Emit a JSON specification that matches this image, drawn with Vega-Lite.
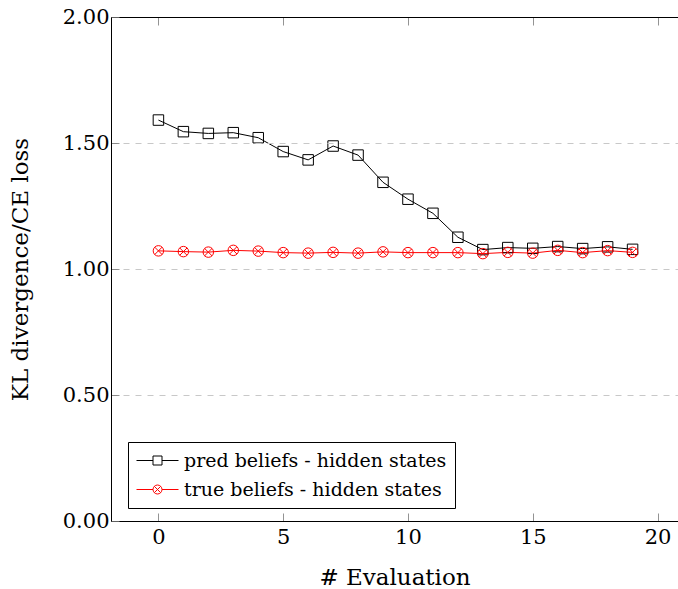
{
  "$schema": "https://vega.github.io/schema/vega-lite/v6.json",
  "width": 567,
  "height": 504,
  "autosize": "none",
  "padding": {"left": 111, "top": 17, "right": 0, "bottom": 68},
  "background": "white",
  "config": {
    "view": {"stroke": null},
    "font": "DejaVu Serif",
    "axis": {"labelFont": "DejaVu Serif", "titleFont": "DejaVu Serif", "labelColor": "black", "titleColor": "black", "titleFontWeight": "normal", "labelFontSize": 21, "titleFontSize": 23}
  },
  "data": {
    "values": [
      {"x": 0, "value": 1.591, "series": "pred beliefs - hidden states"},
      {"x": 1, "value": 1.545, "series": "pred beliefs - hidden states"},
      {"x": 2, "value": 1.538, "series": "pred beliefs - hidden states"},
      {"x": 3, "value": 1.541, "series": "pred beliefs - hidden states"},
      {"x": 4, "value": 1.521, "series": "pred beliefs - hidden states"},
      {"x": 5, "value": 1.466, "series": "pred beliefs - hidden states"},
      {"x": 6, "value": 1.433, "series": "pred beliefs - hidden states"},
      {"x": 7, "value": 1.488, "series": "pred beliefs - hidden states"},
      {"x": 8, "value": 1.452, "series": "pred beliefs - hidden states"},
      {"x": 9, "value": 1.344, "series": "pred beliefs - hidden states"},
      {"x": 10, "value": 1.277, "series": "pred beliefs - hidden states"},
      {"x": 11, "value": 1.221, "series": "pred beliefs - hidden states"},
      {"x": 12, "value": 1.126, "series": "pred beliefs - hidden states"},
      {"x": 13, "value": 1.077, "series": "pred beliefs - hidden states"},
      {"x": 14, "value": 1.085, "series": "pred beliefs - hidden states"},
      {"x": 15, "value": 1.082, "series": "pred beliefs - hidden states"},
      {"x": 16, "value": 1.089, "series": "pred beliefs - hidden states"},
      {"x": 17, "value": 1.081, "series": "pred beliefs - hidden states"},
      {"x": 18, "value": 1.088, "series": "pred beliefs - hidden states"},
      {"x": 19, "value": 1.078, "series": "pred beliefs - hidden states"},
      {"x": 0, "value": 1.072, "series": "true beliefs - hidden states"},
      {"x": 1, "value": 1.069, "series": "true beliefs - hidden states"},
      {"x": 2, "value": 1.067, "series": "true beliefs - hidden states"},
      {"x": 3, "value": 1.074, "series": "true beliefs - hidden states"},
      {"x": 4, "value": 1.071, "series": "true beliefs - hidden states"},
      {"x": 5, "value": 1.065, "series": "true beliefs - hidden states"},
      {"x": 6, "value": 1.063, "series": "true beliefs - hidden states"},
      {"x": 7, "value": 1.066, "series": "true beliefs - hidden states"},
      {"x": 8, "value": 1.063, "series": "true beliefs - hidden states"},
      {"x": 9, "value": 1.068, "series": "true beliefs - hidden states"},
      {"x": 10, "value": 1.065, "series": "true beliefs - hidden states"},
      {"x": 11, "value": 1.065, "series": "true beliefs - hidden states"},
      {"x": 12, "value": 1.065, "series": "true beliefs - hidden states"},
      {"x": 13, "value": 1.061, "series": "true beliefs - hidden states"},
      {"x": 14, "value": 1.066, "series": "true beliefs - hidden states"},
      {"x": 15, "value": 1.063, "series": "true beliefs - hidden states"},
      {"x": 16, "value": 1.074, "series": "true beliefs - hidden states"},
      {"x": 17, "value": 1.065, "series": "true beliefs - hidden states"},
      {"x": 18, "value": 1.073, "series": "true beliefs - hidden states"},
      {"x": 19, "value": 1.066, "series": "true beliefs - hidden states"}
    ]
  },
  "resolve": {"axis": {"x": "independent"}},
  "layer": [
    {
      "mark": {"type": "line", "strokeWidth": 1},
      "encoding": {
        "x": {
          "field": "x", "type": "quantitative",
          "scale": {"domain": [-1.9, 20.82], "nice": false, "zero": false},
          "axis": {"orient": "bottom", "values": [0, 5, 10, 15, 20], "format": "d", "title": "# Evaluation", "grid": false, "tickSize": -8, "tickColor": "#777", "tickWidth": 0.8, "domainColor": "black", "domainWidth": 1, "labelPadding": 13, "titlePadding": 19, "labelFlush": false, "zindex": 1}
        },
        "y": {
          "field": "value", "type": "quantitative",
          "scale": {"domain": [0, 2], "nice": false, "zero": false},
          "axis": {"values": [0, 0.5, 1, 1.5, 2], "format": ".2f", "title": "KL divergence/CE loss", "grid": true, "gridDash": [6, 6], "gridColor": "#c8c8c8", "gridWidth": 1, "tickSize": -8, "tickColor": "#777", "tickWidth": 0.8, "domainColor": "black", "domainWidth": 1, "labelPadding": 10, "titlePadding": 30, "labelFlush": false, "zindex": 1}
        },
        "color": {
          "field": "series", "type": "nominal",
          "scale": {"domain": ["pred beliefs - hidden states", "true beliefs - hidden states"], "range": ["black", "red"]},
          "legend": {
            "orient": "none", "legendX": 17, "legendY": 425, "title": null,
            "fillColor": "white", "strokeColor": "black", "cornerRadius": 0, "padding": 8,
            "symbolSize": 400, "symbolStrokeWidth": 1, "symbolFillColor": "transparent",
            "labelFont": "DejaVu Serif", "labelFontSize": 19, "labelColor": "black", "labelLimit": 500,
            "rowPadding": 8, "symbolOffset": 11, "labelOffset": 16,
            "encode": {
              "symbols": {
                "update": {
                  "shape": {"signal": "datum.value === 'pred beliefs - hidden states' ? 'M-2.1,0H-0.45M0.45,0H2.1M-0.45,-0.45H0.45V0.45H-0.45Z' : 'M-2.1,0H-0.45M0.45,0H2.1M-0.45,0A0.45,0.45 0 1,1 0.45,0A0.45,0.45 0 1,1 -0.45,0M-0.318,-0.318L0.318,0.318M-0.318,0.318L0.318,-0.318'"},
                  "fill": {"value": "transparent"},
                  "stroke": {"signal": "datum.value === 'pred beliefs - hidden states' ? 'black' : 'red'"}
                }
              }
            }
          }
        }
      }
    },
    {
      "transform": [{"filter": "datum.series === 'pred beliefs - hidden states'"}],
      "mark": {"type": "point", "shape": "square", "filled": false, "strokeWidth": 1, "size": 110, "opacity": 1},
      "encoding": {
        "x": {
          "field": "x", "type": "quantitative",
          "axis": {"orient": "top", "values": [0, 5, 10, 15, 20], "labels": false, "title": null, "grid": false, "tickSize": -8, "tickColor": "#777", "tickWidth": 0.8, "domainColor": "black", "domainWidth": 1, "zindex": 1}
        },
        "y": {"field": "value", "type": "quantitative"},
        "color": {"field": "series", "type": "nominal"}
      }
    },
    {
      "transform": [{"filter": "datum.series === 'true beliefs - hidden states'"}],
      "mark": {"type": "point", "shape": "M-1,0A1,1 0 1,1 1,0A1,1 0 1,1 -1,0M-0.707,-0.707L0.707,0.707M-0.707,0.707L0.707,-0.707", "filled": false, "strokeWidth": 1, "size": 110, "opacity": 1},
      "encoding": {
        "x": {"field": "x", "type": "quantitative", "axis": null},
        "y": {"field": "value", "type": "quantitative"},
        "color": {"field": "series", "type": "nominal"}
      }
    }
  ]
}
